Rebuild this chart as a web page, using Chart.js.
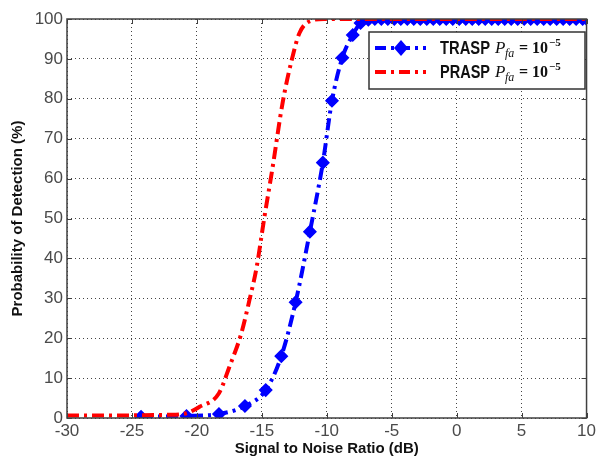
<!DOCTYPE html>
<html>
<head>
<meta charset="utf-8">
<script src="https://cdn.jsdelivr.net/npm/chart.js@4/dist/chart.umd.min.js"></script>
<style>
  html, body { margin: 0; padding: 0; background: #fff; }
  #wrap { width: 599px; height: 464px; position: relative; }
</style>
</head>
<body>
<div id="wrap"><canvas id="c"></canvas></div>
<script>
"use strict";

// SNR axis ticks (dB) and detection-probability ticks (%)
const xTicks = [-30, -25, -20, -15, -10, -5, 0, 5, 10];
const yTicks = [0, 10, 20, 30, 40, 50, 60, 70, 80, 90, 100];

// TRASP, Pfa = 1e-5 (blue, diamond markers)
const traspSnr = [-24.3, -20.8, -18.3, -16.3, -14.7, -13.5, -12.4, -11.3, -10.3, -9.6, -8.8, -8.0,
  -7.4, -6.8, -6.3, -5.8, -5.3, -4.8, -4.3, -3.8, -3.3, -2.8, -2.3, -1.8, -1.3, -0.8, -0.3,
  0.2, 0.7, 1.2, 1.7, 2.2, 2.7, 3.2, 3.7, 4.2, 4.7, 5.2, 5.7, 6.2, 6.7, 7.2, 7.7, 8.2, 8.7, 9.2, 9.7, 10];
const traspPd = [0.3, 0.5, 1, 3, 7, 15.5, 29, 46.7, 64, 79.5, 90.3, 96,
  99, 99.8, 100, 100, 100, 100, 100, 100, 100, 100, 100, 100, 100, 100, 100,
  100, 100, 100, 100, 100, 100, 100, 100, 100, 100, 100, 100, 100, 100, 100, 100, 100, 100, 100, 100, 100];

// PRASP, Pfa = 1e-5 (red, no markers)
const praspSnr = [-30, -22.1, -20.8, -19.8, -18.3, -17.5, -16.6, -15.95, -15.4, -14.8, -14.2, -13.4,
  -12.7, -12.1, -11.1, -10.2, 10];
const praspPd = [0.6, 0.8, 1.2, 2.8, 6.2, 12.8, 21, 29.6, 37.8, 50.4, 62.2, 79,
  89.7, 96.5, 99.7, 100, 100];

const legendItems = [
  { name: "TRASP", color: "#0000ff", marker: true },
  { name: "PRASP", color: "#ff0000", marker: false },
];

const toXY = (xs, ys) => xs.map((x, i) => ({ x, y: ys[i] }));

// draw text squeezed into a given width (the original legend uses a condensed bold face)
function fitText(ctx, text, x, y, w) {
  const m = ctx.measureText(text).width;
  ctx.save();
  ctx.translate(x, y);
  ctx.scale(Math.min(1, w / m), 1);
  ctx.fillText(text, 0, 0);
  ctx.restore();
}

// MATLAB-like frame with inward ticks, plus the boxed legend with P_fa math text
const framePlugin = {
  id: "frame",
  afterDraw(chart) {
    const { ctx, chartArea: a, scales } = chart;
    ctx.save();
    ctx.strokeStyle = "#404040";
    ctx.lineWidth = 1.5;
    ctx.strokeRect(a.left, a.top, a.right - a.left, a.bottom - a.top);
    ctx.lineWidth = 1;
    ctx.beginPath();
    xTicks.forEach((v) => {
      const px = Math.round(scales.x.getPixelForValue(v)) + 0.5;
      ctx.moveTo(px, a.bottom); ctx.lineTo(px, a.bottom - 5);
      ctx.moveTo(px, a.top); ctx.lineTo(px, a.top + 5);
    });
    yTicks.forEach((v) => {
      const py = Math.round(scales.y.getPixelForValue(v)) + 0.5;
      ctx.moveTo(a.left, py); ctx.lineTo(a.left + 5, py);
      ctx.moveTo(a.right, py); ctx.lineTo(a.right - 5, py);
    });
    ctx.stroke();

    // legend box
    const bx = 369, by = 32, bw = 216, bh = 57;
    ctx.fillStyle = "#fff";
    ctx.fillRect(bx, by, bw, bh);
    ctx.strokeStyle = "#333";
    ctx.lineWidth = 1.5;
    ctx.strokeRect(bx, by, bw, bh);

    legendItems.forEach((it, i) => {
      const y = 48 + i * 24;
      ctx.strokeStyle = it.color;
      ctx.lineWidth = 4;
      ctx.setLineDash([11, 5, 3, 5]);
      ctx.beginPath();
      ctx.moveTo(375, y); ctx.lineTo(426, y);
      ctx.stroke();
      ctx.setLineDash([]);
      if (it.marker) {
        ctx.fillStyle = it.color;
        ctx.beginPath();
        ctx.moveTo(401, y - 8); ctx.lineTo(408, y); ctx.lineTo(401, y + 8); ctx.lineTo(394, y);
        ctx.closePath();
        ctx.fill();
      }
      ctx.fillStyle = "#111";
      ctx.textBaseline = "alphabetic";
      ctx.font = "bold 18px 'Liberation Sans', Arial, sans-serif";
      fitText(ctx, it.name, 440, y + 6, 50);
      ctx.font = "italic 17px 'Liberation Serif', serif";
      ctx.fillText("P", 495, y + 5);
      ctx.font = "italic 12px 'Liberation Serif', serif";
      ctx.fillText("fa", 505, y + 9);
      ctx.font = "bold 16px 'Liberation Serif', serif";
      ctx.fillText("=", 519, y + 5);
      ctx.fillText("10", 532, y + 5);
      ctx.font = "bold 11px 'Liberation Serif', serif";
      ctx.fillText("\u22125", 549, y - 2);
    });
    ctx.restore();
  },
};

const gridOpts = { color: "#444", drawTicks: false, lineWidth: 1 };
const borderOpts = { display: false, dash: [1, 3] };

new Chart(document.getElementById("c"), {
  type: "line",
  data: {
    datasets: [
      {
        label: "TRASP",
        data: toXY(traspSnr, traspPd),
        borderColor: "#0000ff",
        backgroundColor: "#0000ff",
        borderWidth: 4,
        borderDash: [12, 5, 3, 5],
        pointStyle: "rectRot",
        pointRadius: 6,
        pointBorderWidth: 1.5,
        pointBorderColor: "#0000ff",
        pointBackgroundColor: "#0000ff",
        cubicInterpolationMode: "monotone",
        order: 2,
      },
      {
        label: "PRASP",
        data: toXY(praspSnr, praspPd),
        borderColor: "#ff0000",
        backgroundColor: "#ff0000",
        borderWidth: 4,
        borderDash: [12, 5, 3, 5],
        pointRadius: 0,
        cubicInterpolationMode: "monotone",
        order: 1,
      },
    ],
  },
  options: {
    responsive: true,
    maintainAspectRatio: false,
    animation: false,
    devicePixelRatio: 1,
    layout: { padding: { top: 19, right: 11, left: 0, bottom: 0 } },
    plugins: { legend: { display: false }, tooltip: { enabled: false } },
    scales: {
      x: {
        type: "linear",
        min: -30,
        max: 10,
        afterBuildTicks: (s) => { s.ticks = xTicks.map((v) => ({ value: v })); },
        afterFit: (s) => { s.height = 46; },
        ticks: {
          color: "#4a4a4a",
          padding: 3,
          font: { family: "'Liberation Sans', Arial, sans-serif", size: 17 },
        },
        grid: gridOpts,
        border: borderOpts,
        title: {
          display: true,
          text: "Signal to Noise Ratio (dB)",
          color: "#111",
          padding: { top: 0, bottom: 6 },
          font: { family: "'Liberation Sans', Arial, sans-serif", size: 15, weight: "bold" },
        },
      },
      y: {
        type: "linear",
        min: 0,
        max: 100,
        afterBuildTicks: (s) => { s.ticks = yTicks.map((v) => ({ value: v })); },
        afterFit: (s) => { s.width = 67; },
        ticks: {
          color: "#4a4a4a",
          padding: 4,
          font: { family: "'Liberation Sans', Arial, sans-serif", size: 17 },
        },
        grid: gridOpts,
        border: borderOpts,
        title: {
          display: true,
          text: "Probability of Detection (%)",
          color: "#111",
          padding: { top: 9, bottom: 0 },
          font: { family: "'Liberation Sans', Arial, sans-serif", size: 15, weight: "bold" },
        },
      },
    },
  },
  plugins: [framePlugin],
});
</script>
</body>
</html>
